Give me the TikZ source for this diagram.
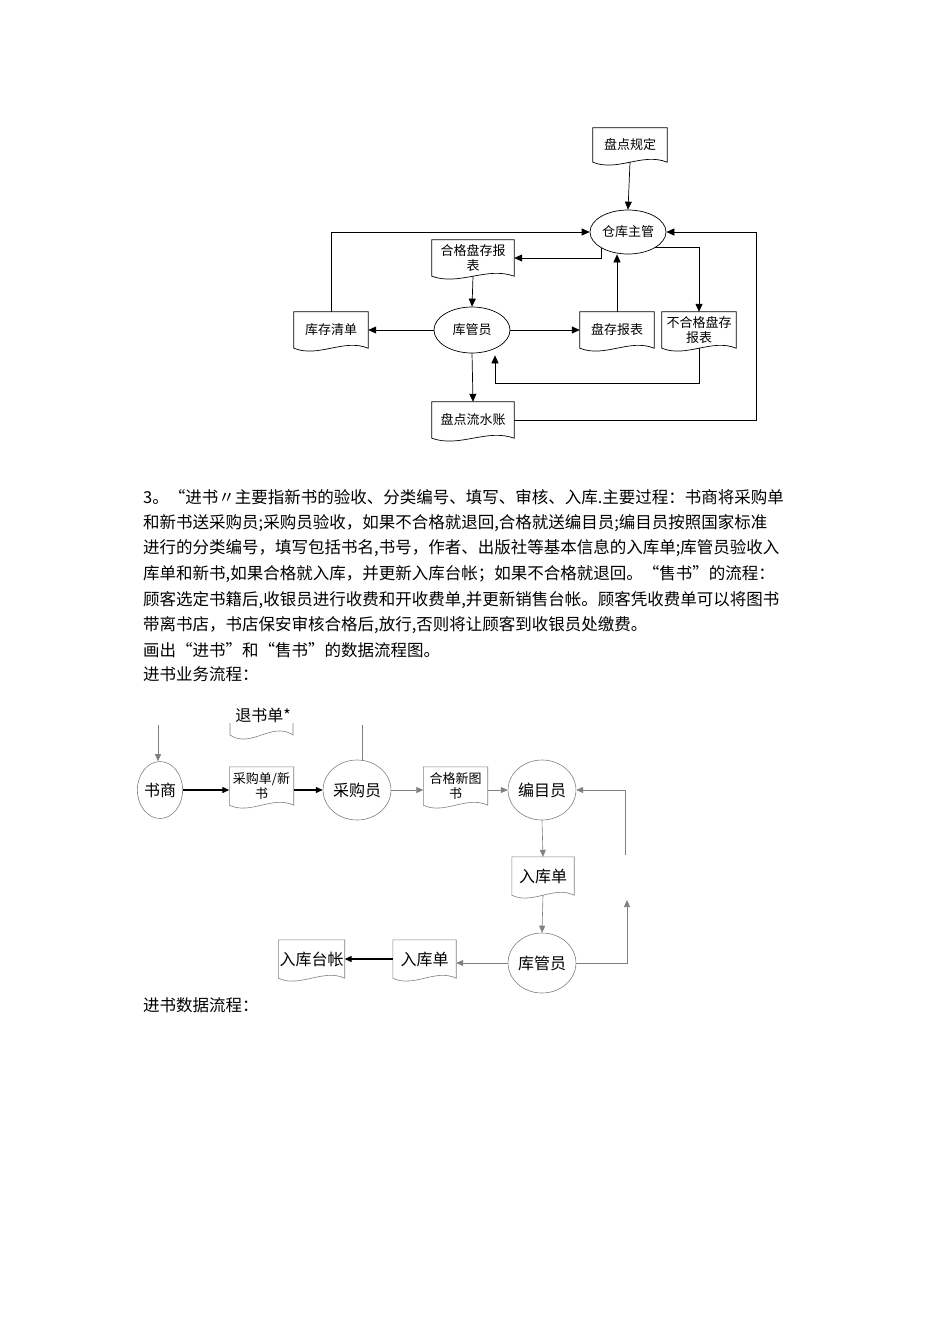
\documentclass[tikz,border=0pt]{standalone}
\usepackage{fontspec}
\setmainfont{Noto Sans CJK SC}
\usetikzlibrary{shapes.geometric,arrows.meta}
\newcommand\docwave[3]{\draw[#3] (#1.north west) -- (#1.north east) -- (#1.south east)
      .. controls ([xshift=-#2/3,yshift=10pt]#1.south east) and ([xshift=#2/3,yshift=-10pt]#1.south west) .. (#1.south west) -- cycle;}
\tikzset{
  doc/.style n args={2}{minimum width=#1, minimum height=#2, inner sep=1pt, align=center},
  bl/.style={draw=black,line width=0.7pt},
  gl/.style={draw=gray,line width=0.6pt},
  proc/.style n args={2}{ellipse, draw, line width=0.7pt, minimum width=#1, minimum height=#2, inner sep=0pt},
  gproc/.style n args={2}{ellipse, draw=gray, line width=0.6pt, minimum width=#1, minimum height=#2, inner sep=0pt},
  ar/.style={-{Triangle[length=8pt,width=7pt]}, line width=0.7pt},
  gar/.style={-{Triangle[length=7pt,width=6pt]}, draw=gray, line width=0.6pt},
  bar/.style={-{Triangle[length=7pt,width=6pt]}, line width=1.2pt},
  tf/.style={font=\fontsize{13}{15}\selectfont},
  bf/.style={font=\fontsize{16}{18}\selectfont},
  sf/.style={font=\fontsize{13}{15}\selectfont},
  para/.style={anchor=west, inner sep=0pt, font=\fontsize{16.5}{18}\selectfont}
}
\begin{document}
\begin{tikzpicture}[x=1pt,y=-1pt]
\path[use as bounding box, fill=white] (0,0) rectangle (950,1344);
% top diagram
\node[doc={74pt}{34pt},tf] (pd) at (630,145) {盘点规定};
\docwave{pd}{74pt}{bl}
\node[proc={76pt}{44pt},tf] (ck) at (628,232) {仓库主管};
\node[doc={82pt}{36pt},tf,text width=80pt] (hg) at (473,258) {合格盘存报\\表};
\docwave{hg}{82pt}{bl}
\node[proc={76pt}{46pt},tf] (kg) at (472,330) {库管员};
\node[doc={74pt}{36pt},tf] (kc) at (331,330) {库存清单};
\docwave{kc}{74pt}{bl}
\node[doc={74pt}{36pt},tf] (pc) at (617,330) {盘存报表};
\docwave{pc}{74pt}{bl}
\node[doc={74pt}{36pt},tf,text width=72pt] (bh) at (699,330) {不合格盘存\\报表};
\docwave{bh}{74pt}{bl}
\node[doc={82pt}{36pt},tf] (ls) at (473,420) {盘点流水账};
\docwave{ls}{82pt}{bl}
\coordinate (c1) at (495,383);
\coordinate (c2) at (756,232);
\draw[ar] (pd.south) -- (ck.north);
\draw[ar] (kc.north) |- (ck.west);
\draw[ar] (ck.south west) |- (hg.east);
\draw[ar] (hg.south) -- (kg.north);
\draw[ar] (kg.west) -- (kc.east);
\draw[ar] (kg.east) -- (pc.west);
\draw[ar] (pc.north) -- (pc.north |- ck.south);
\draw[ar] (ck.south east) -| (bh.north);
\draw[ar] (bh.south) |- (c1) -- ([yshift=-2pt]c1 |- kg.south);
\draw[ar] (kg.south) -- (ls.north);
\draw[ar] (ls.east) -| (c2) -- (ck.east);
% paragraph
\node[para] (p1) at (143,497) {3。“进书〃主要指新书的验收、分类编号、填写、审核、入库.主要过程：书商将采购单};
\node[para] (p2) at (143,523) {和新书送采购员;采购员验收，如果不合格就退回,合格就送编目员;编目员按照国家标准};
\node[para] (p3) at (143,548) {进行的分类编号，填写包括书名,书号，作者、出版社等基本信息的入库单;库管员验收入};
\node[para] (p4) at (143,574) {库单和新书,如果合格就入库，并更新入库台帐；如果不合格就退回。“售书”的流程：};
\node[para] (p5) at (143,600) {顾客选定书籍后,收银员进行收费和开收费单,并更新销售台帐。顾客凭收费单可以将图书};
\node[para] (p6) at (143,625) {带离书店，书店保安审核合格后,放行,否则将让顾客到收银员处缴费。};
\node[para] (p7) at (143,650) {画出“进书”和“售书"的数据流程图。};
\node[para] (p8) at (143,674) {进书业务流程：};
\node[para] (p9) at (143,1005) {进书数据流程：};
% bottom diagram
\node[gproc={42pt}{57pt},bf] (ss) at (160,790) {书商};
\node[doc={63pt}{38pt},sf,text width=62pt] (cg) at (261.5,786) {采购单/新\\书};
\docwave{cg}{63pt}{gl}
\node[gproc={44pt}{60pt},bf] (cy) at (357,790) {采购员};
\node[doc={63pt}{38pt},sf,text width=62pt] (hx) at (455.5,786) {合格新图\\书};
\docwave{hx}{63pt}{gl}
\node[gproc={44pt}{60pt},bf] (bm) at (542,790) {编目员};
\node[doc={62pt}{38pt},bf] (rk1) at (543,876) {入库单};
\docwave{rk1}{62pt}{gl}
\node[gproc={44pt}{60pt},bf] (kgy) at (542,963) {库管员};
\node[doc={63pt}{38pt},bf] (rk2) at (424.5,959) {入库单};
\docwave{rk2}{63pt}{gl}
\node[doc={63pt}{38pt},bf] (rt) at (311.5,959) {入库台帐};
\docwave{rt}{63pt}{gl}
\node[bf,inner sep=0pt] (tsd) at (263,715) {退书单*};
\draw[gl] (230,723) -- (230,735) .. controls (251,749) and (272,721) .. (293,735) -- (293,723);
\coordinate (s0) at (158,725);
\coordinate (s1) at (362,725);
\coordinate (f1) at (627,900);
\coordinate (f2) at (625,855);
\draw[gar] (s0) -- (s0 |- ss.north);
\draw[gray,line width=0.6pt] (s1) -- ([yshift=-1pt]s1 |- cy.north);
\draw[bar] (ss.east) -- (cg.west |- ss.east);
\draw[bar] (cg.east |- cy.west) -- (cy.west);
\draw[gar] (cy.east) -- (hx.west |- cy.east);
\draw[gar] (hx.east |- bm.west) -- (bm.west);
\draw[gar] (bm.south) -- (rk1.north);
\draw[gar] (rk1.south) -- (kgy.north);
\draw[gar] (kgy.west) -- (rk2.east |- kgy.west);
\draw[bar] (rk2.west) -- (rt.east);
\draw[gar] (kgy.east) -| (f1);
\draw[gar] (f2) |- (bm.east);
\end{tikzpicture}
\end{document}
